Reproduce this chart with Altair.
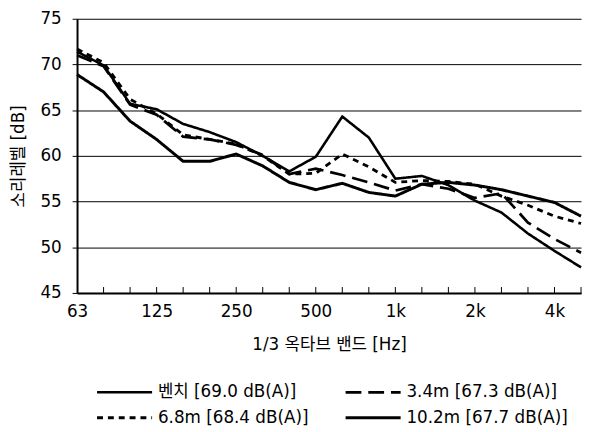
import altair as alt
import pandas as pd

# 1/3 octave bands (index positions on the x axis)
bands = ["63", "80", "100", "125", "160", "200", "250", "315", "400", "500",
         "630", "800", "1k", "1.25k", "1.6k", "2k", "2.5k", "3.15k", "4k", "5k"]
tick_labels = {0: "63", 3: "125", 6: "250", 9: "500", 12: "1k", 15: "2k", 18: "4k"}

series_names = ["벤치 [69.0 dB(A)]", "3.4m [67.3 dB(A)]",
                "6.8m [68.4 dB(A)]", "10.2m [67.7 dB(A)]"]

bench = [71.4, 69.9, 65.7, 65.1, 63.5, 62.6, 61.5, 60.0, 58.3, 59.9,
         64.3, 62.0, 57.5, 57.8, 56.8, 55.1, 53.8, 51.5, 49.6, 47.8]
m34 = [71.0, 69.8, 65.6, 64.5, 62.1, 61.8, 61.2, 60.1, 58.0, 58.6,
       57.9, 57.1, 56.2, 56.9, 56.4, 55.4, 55.9, 52.7, 50.9, 49.4]
m68 = [71.7, 70.2, 66.2, 64.6, 62.3, 61.8, 61.3, 60.0, 58.0, 58.1,
       60.2, 58.8, 57.1, 57.3, 57.2, 56.9, 55.6, 54.6, 53.4, 52.6]
m102 = [68.9, 67.0, 63.8, 61.8, 59.4, 59.4, 60.2, 58.9, 57.1, 56.3,
        57.0, 56.0, 55.6, 56.9, 57.1, 56.8, 56.3, 55.6, 54.9, 53.4]

dash_styles = [[1, 0], [16, 7], [6, 5], [1, 0]]
line_widths = [2.6, 3.0, 3.0, 1.0]

rows = []
for name, vals in zip(series_names, [bench, m34, m68, m102]):
    for i, v in enumerate(vals):
        rows.append({"idx": i, "band": bands[i], "level": v, "series": name})
df = pd.DataFrame(rows)

tick_df = pd.DataFrame({"idx": list(range(1, len(bands)))})

label_expr = "{" + ",".join(f"'{k}':'{v}'" for k, v in tick_labels.items()) + "}[datum.value] || ''"

PLOT_W, PLOT_H = 511, 278
FS = 17

x_axis = alt.Axis(values=list(range(len(bands))), labelExpr=label_expr,
                  ticks=False, grid=False, domainColor="black", domainWidth=2,
                  labelFontSize=FS, labelPadding=11, labelColor="black",
                  labelOverlap=False, labelFlush=False,
                  title="1/3 옥타브 밴드 [Hz]", titleFontSize=FS,
                  titleFontWeight="normal", titlePadding=17,
                  titleColor="black")
x_scale = alt.Scale(domain=[0, len(bands) - 1], nice=False, zero=False)

legend_def = alt.Legend(title=None)

lines = alt.Chart(df).mark_line(color="black", strokeJoin="miter").encode(
    x=alt.X("idx:Q", scale=x_scale, axis=x_axis),
    y=alt.Y("level:Q",
            scale=alt.Scale(domain=[45, 75], nice=False, zero=False),
            axis=alt.Axis(values=[45, 50, 55, 60, 65, 70, 75], grid=True,
                          gridColor="black", gridWidth=1, gridOpacity=1,
                          tickColor="black", tickSize=5, tickWidth=1,
                          domainColor="black", domainWidth=2,
                          labelFontSize=FS, labelPadding=11, labelColor="black",
                          labelOverlap=False,
                          title="소리레벨 [dB]", titleFontSize=FS,
                          titleFontWeight="normal", titlePadding=13,
                          titleColor="black")),
    strokeDash=alt.StrokeDash("series:N",
                              scale=alt.Scale(domain=series_names, range=dash_styles),
                              legend=legend_def),
    strokeWidth=alt.StrokeWidth("series:N",
                                scale=alt.Scale(domain=series_names, range=line_widths),
                                legend=legend_def),
    detail="series:N",
)

ticks = alt.Chart(tick_df).mark_rule(color="black", strokeWidth=1).encode(
    x=alt.X("idx:Q", scale=x_scale, axis=x_axis),
    y=alt.value(PLOT_H - 6),
    y2=alt.value(PLOT_H),
)

chart = alt.layer(lines, ticks).properties(
    width=PLOT_W, height=PLOT_H,
    autosize=alt.AutoSizeParams(type="none"),
    padding={"left": 70, "top": 8, "right": 2, "bottom": 134},
).configure(
    font="DejaVu Sans, Noto Sans CJK KR",
    background="white",
).configure_axis(
    labelOverlap=False,
).configure_view(
    stroke=None,
).configure_legend(
    orient="none",
    legendX=53,
    legendY=368,
    columns=2,
    direction="horizontal",
    symbolType="M-4.8,0H1.4",
    symbolSize=324,
    symbolStrokeColor="black",
    symbolFillColor="transparent",
    labelFontSize=FS,
    labelColor="black",
    labelOffset=8,
    columnPadding=31,
    rowPadding=7,
    labelLimit=0,
)

chart.save("out.html", embed_options={"renderer": "svg", "actions": False})
